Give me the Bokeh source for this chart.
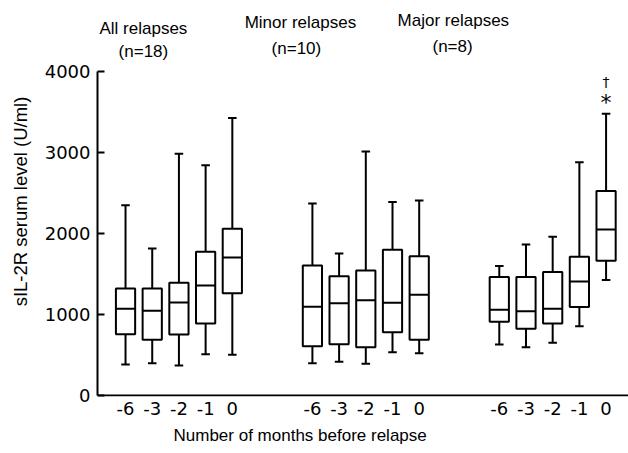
from bokeh.plotting import figure
from bokeh.models import FixedTicker, Label, Range1d, LinearAxis, Title
from bokeh.core.properties import value
from bokeh.embed import file_html
from bokeh.resources import INLINE

# ---- data ----
months = ["-6", "-3", "-2", "-1", "0"]
groups = ["All relapses", "Minor relapses", "Major relapses"]
group_n = ["(n=18)", "(n=10)", "(n=8)"]

all_low = [383, 399, 370, 510, 502]
all_q1 = [757, 687, 753, 889, 1263]
all_med = [1070, 1045, 1148, 1358, 1704]
all_q3 = [1321, 1321, 1391, 1774, 2058]
all_high = [2349, 1815, 2983, 2840, 3424]

minor_low = [399, 416, 391, 535, 523]
minor_q1 = [609, 634, 597, 782, 687]
minor_med = [1095, 1140, 1177, 1144, 1243]
minor_q3 = [1605, 1473, 1543, 1798, 1720]
minor_high = [2370, 1753, 3012, 2387, 2407]

major_low = [630, 597, 650, 856, 1424]
major_q1 = [909, 823, 889, 1091, 1663]
major_med = [1058, 1041, 1070, 1407, 2049]
major_q3 = [1461, 1461, 1523, 1712, 2523]
major_high = [1597, 1864, 1959, 2877, 3478]

y_ticks = [0, 1000, 2000, 3000, 4000]

TFONT = "DejaVu Sans"       # tick labels (wide digits)
LFONT = "Liberation Sans"   # titles

stats = [
    (all_low, all_q1, all_med, all_q3, all_high),
    (minor_low, minor_q1, minor_med, minor_q3, minor_high),
    (major_low, major_q1, major_med, major_q3, major_high),
]

X0, X1 = -1.05, 18.84
p = figure(width=628, height=453, output_backend="svg", toolbar_location=None,
           x_range=Range1d(X0, X1), y_range=Range1d(-12, 4800),
           min_border_left=97, min_border_right=0, min_border_top=6,
           min_border_bottom=57)
p.outline_line_color = None
p.xgrid.visible = False
p.ygrid.visible = False
p.background_fill_color = "white"

GAP = 7
BW = 0.36
CAP = 0.16
LW = 2

xs, lo, q1s, md, q3s, hi = [], [], [], [], [], []
for g, (l, a, m, b, h) in enumerate(stats):
    for i in range(len(months)):
        xs.append(g * GAP + i)
        lo.append(l[i]); q1s.append(a[i]); md.append(m[i]); q3s.append(b[i]); hi.append(h[i])

left = [x - BW for x in xs]
right = [x + BW for x in xs]

# x-axis baseline
p.segment(x0=[X0], y0=[0], x1=[X1], y1=[0], line_color="black", line_width=LW)

# whiskers
p.segment(x0=xs, y0=q3s, x1=xs, y1=hi, line_color="black", line_width=LW)
p.segment(x0=xs, y0=q1s, x1=xs, y1=lo, line_color="black", line_width=LW)
p.segment(x0=[x - CAP for x in xs], y0=hi, x1=[x + CAP for x in xs], y1=hi,
          line_color="black", line_width=LW)
p.segment(x0=[x - CAP for x in xs], y0=lo, x1=[x + CAP for x in xs], y1=lo,
          line_color="black", line_width=LW)
# boxes
p.quad(left=left, right=right, bottom=q1s, top=q3s, fill_color="white",
       line_color="black", line_width=LW)
p.segment(x0=left, y0=md, x1=right, y1=md, line_color="black", line_width=LW)

# significance marks above major relapses, month 0
sig_x = 2 * GAP + 4
p.text(x=[sig_x], y=[3620], text=["*"], text_font=value(TFONT), text_font_size="22px",
       text_align="center", text_baseline="middle", text_color="black")
p.text(x=[sig_x], y=[3870], text=["†"], text_font=value(TFONT), text_font_size="14px",
       text_align="center", text_baseline="middle", text_color="black")

# main y axis
ya = p.yaxis[0]
ya.bounds = (0, 4000)
ya.ticker = FixedTicker(ticks=y_ticks)
ya.minor_tick_line_color = None
ya.major_tick_in = 7
ya.major_tick_out = 0
ya.axis_line_width = LW
ya.major_tick_line_width = LW
ya.axis_line_color = "black"
ya.major_tick_line_color = "black"
ya.major_label_text_font = TFONT
ya.major_label_text_font_size = "18px"
ya.major_label_text_color = "black"
ya.major_label_standoff = 7

# y-axis title carried by a bare axis (so it can be centred where the original is)
yt = LinearAxis(ticker=FixedTicker(ticks=[]), bounds=(0, 4360),
                axis_line_color=None, major_tick_line_color=None,
                minor_tick_line_color=None, major_tick_out=0, major_tick_in=0,
                major_label_standoff=0,
                axis_label="sIL-2R serum level (U/ml)", axis_label_text_font=LFONT,
                axis_label_text_font_size="18.5px", axis_label_text_font_style="normal",
                axis_label_text_color="black", axis_label_standoff=11)
p.add_layout(yt, "left")

# main x axis (labels only)
xa = p.xaxis[0]
tick_pos = []
overrides = {}
for g in range(len(groups)):
    for i, m in enumerate(months):
        tick_pos.append(g * GAP + i)
        overrides[g * GAP + i] = m
xa.ticker = FixedTicker(ticks=tick_pos)
xa.major_label_overrides = overrides
xa.major_tick_line_color = None
xa.minor_tick_line_color = None
xa.major_tick_out = 0
xa.axis_line_color = None
xa.major_label_text_font = TFONT
xa.major_label_text_font_size = "18px"
xa.major_label_text_color = "black"
xa.major_label_standoff = 5

# x-axis title
p.add_layout(Title(text="Number of months before relapse", align="left", offset=76,
                   text_font=LFONT, text_font_size="17px", text_font_style="normal",
                   text_color="black", standoff=12), "below")

# group titles
title_pos = [(0.67, 4524, 0.67, 4250), (6.55, 4606, 6.4, 4287), (12.28, 4623, 12.25, 4302)]
for g in range(len(groups)):
    tx, ty, nx, ny = title_pos[g]
    p.add_layout(Label(x=tx, y=ty, text=groups[g], text_font=LFONT, text_font_size="17px",
                       text_align="center", text_baseline="middle", text_color="black"))
    p.add_layout(Label(x=nx, y=ny, text=group_n[g], text_font=LFONT, text_font_size="17px",
                       text_align="center", text_baseline="middle", text_color="black"))

open("out.html", "w").write(file_html(p, INLINE))
